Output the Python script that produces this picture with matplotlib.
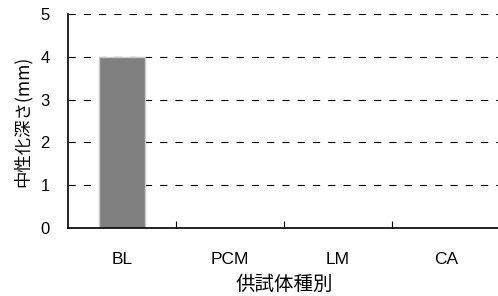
import matplotlib.pyplot as plt
import numpy as np

plt.rcParams['font.family'] = ['Liberation Sans', 'Noto Sans CJK JP', 'DejaVu Sans']
plt.rcParams['lines.scale_dashes'] = False

# data
categories = ['BL', 'PCM', 'LM', 'CA']
depth_mm = [4, 0, 0, 0]
y_ticks = [0, 1, 2, 3, 4, 5]

fig = plt.figure(figsize=(4.98, 2.96), dpi=100)
ax = fig.add_axes([68 / 498, 68 / 296, 432 / 498, 214 / 296])

x = np.arange(len(categories))
ax.bar(x, depth_mm, width=0.43, color='#808080', edgecolor='#c8c8c8',
       linewidth=1.0, zorder=3)

ax.set_xlim(-0.5, len(categories) - 0.5)
ax.set_ylim(0, 5)
ax.set_yticks(y_ticks)
ax.yaxis.grid(True, color='black', linewidth=0.8, linestyle=(0, (5.2, 5.8)), zorder=1)
ax.set_axisbelow(True)

# category labels at centres, tick marks between categories
ax.set_xticks(x)
ax.set_xticklabels(categories, fontsize=12.5)
ax.tick_params(axis='x', which='major', length=0, pad=17)
ax.set_xticks(np.arange(0.5, len(categories) - 0.5, 1), minor=True)
ax.tick_params(axis='x', which='minor', direction='in', length=5, width=0.8)
ax.tick_params(axis='y', length=0, pad=13, labelsize=12)

for side in ['top', 'right']:
    ax.spines[side].set_visible(False)
for side in ['left', 'bottom']:
    ax.spines[side].set_linewidth(1.2)
    ax.spines[side].set_zorder(4)

ax.set_xlabel('供試体種別', fontsize=14, family=['Noto Sans CJK JP'], labelpad=5)
ax.set_ylabel('中性化深さ(mm)', fontsize=12.5, family=['Noto Sans CJK JP'], labelpad=6)

fig.savefig('out.png', dpi=100)
